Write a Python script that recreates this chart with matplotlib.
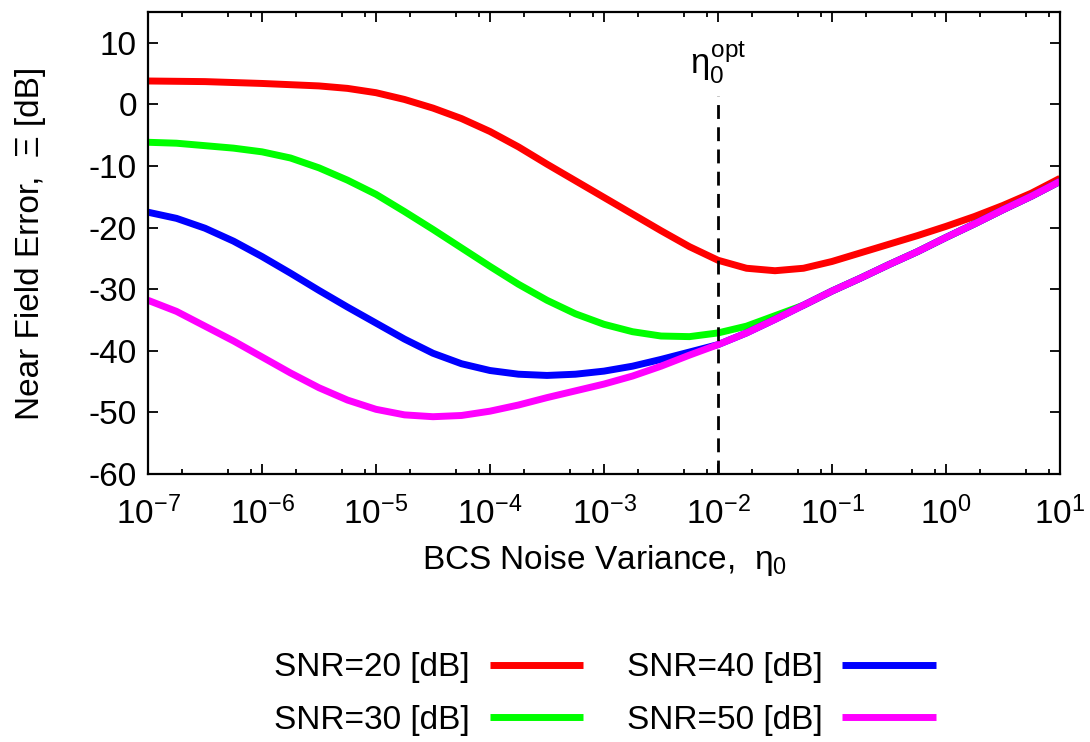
import numpy as np
import matplotlib
matplotlib.use("Agg")
import matplotlib.pyplot as plt
from matplotlib.ticker import LogLocator, FixedLocator, NullFormatter

plt.rcParams['font.family'] = ['Liberation Sans', 'DejaVu Sans']
plt.rcParams['mathtext.fontset'] = 'custom'
plt.rcParams['mathtext.rm'] = 'Liberation Sans'
plt.rcParams['mathtext.it'] = 'Liberation Sans'
plt.rcParams['axes.unicode_minus'] = False
plt.rcParams['font.size'] = 24

# noise variance, quarter-decade steps from 1e-7 to 1e1
exponents = [-7, -6.75, -6.5, -6.25, -6, -5.75, -5.5, -5.25, -5, -4.75, -4.5,
             -4.25, -4, -3.75, -3.5, -3.25, -3, -2.75, -2.5, -2.25, -2,
             -1.75, -1.5, -1.25, -1, -0.75, -0.5, -0.25, 0, 0.25, 0.5, 0.75, 1]
eta0 = [10.0 ** e for e in exponents]

snr20 = [3.8, 3.75, 3.7, 3.55, 3.4, 3.2, 3.0, 2.6, 1.9, 0.8, -0.6,
         -2.3, -4.4, -6.9, -9.7, -12.4, -15.1, -17.8, -20.5, -23.1, -25.3,
         -26.6, -27.0, -26.6, -25.5, -24.1, -22.7, -21.3, -19.8, -18.2, -16.4, -14.4, -12.0]
snr30 = [-6.15, -6.3, -6.7, -7.1, -7.7, -8.7, -10.3, -12.3, -14.6, -17.4, -20.3,
         -23.3, -26.3, -29.2, -31.8, -34.0, -35.7, -36.9, -37.6, -37.7, -37.1,
         -36.0, -34.3, -32.6, -30.3, -28.2, -26.0, -23.9, -21.6, -19.4, -17.1, -14.9, -12.5]
snr40 = [-17.5, -18.5, -20.1, -22.2, -24.7, -27.4, -30.2, -32.9, -35.5, -38.1, -40.4,
         -42.1, -43.2, -43.8, -44.0, -43.8, -43.3, -42.5, -41.4, -40.2, -39.0,
         -37.1, -34.9, -32.6, -30.3, -28.2, -26.0, -23.9, -21.6, -19.4, -17.1, -14.9, -12.5]
snr50 = [-31.8, -33.6, -36.0, -38.4, -41.0, -43.6, -46.0, -48.0, -49.5, -50.4, -50.7,
         -50.5, -49.8, -48.8, -47.6, -46.5, -45.4, -44.1, -42.5, -40.7, -39.0,
         -37.1, -34.9, -32.6, -30.3, -28.2, -26.0, -23.9, -21.6, -19.4, -17.1, -14.9, -12.5]

labels = ['SNR=20 [dB]', 'SNR=30 [dB]', 'SNR=40 [dB]', 'SNR=50 [dB]']
colors = ['#ff0000', '#00ff00', '#0000ff', '#ff00ff']
eta_opt = 1e-2

fig = plt.figure(figsize=(10.9, 7.42), dpi=100)
ax = fig.add_axes([148 / 1090, 1 - 474 / 742, 912 / 1090, 462 / 742])

lines = []
for y, c, lab in zip([snr20, snr30, snr40, snr50], colors, labels):
    ln, = ax.plot(eta0, y, color=c, lw=5.0, label=lab,
                  solid_capstyle='butt', solid_joinstyle='round')
    lines.append(ln)

ax.vlines(eta_opt, -60, 1.4, colors='black', linestyles=(0, (5, 3)), lw=2)
ax.text(eta_opt, 3.0, r'$\eta_0^{\mathrm{opt}}$', ha='center', va='bottom', fontsize=25)

ax.set_xscale('log')
ax.set_xlim(1e-7, 1e1)
ax.set_ylim(-60, 15)
ax.xaxis.set_major_locator(LogLocator(base=10, numticks=20))
ax.xaxis.set_minor_locator(LogLocator(base=10, subs=[2, 5, 8], numticks=20))
ax.xaxis.set_minor_formatter(NullFormatter())
ax.yaxis.set_major_locator(FixedLocator(np.arange(-60, 11, 10)))

ax.tick_params(which='both', direction='in', top=True, right=True, width=1.3)
ax.tick_params(which='major', length=7, labelsize=24)
ax.tick_params(axis='x', which='major', pad=16)
ax.tick_params(axis='y', which='major', pad=8)
ax.tick_params(which='minor', length=3.6)
for s in ax.spines.values():
    s.set_linewidth(1.6)

ax.set_xlabel(r'BCS Noise Variance,  $\eta_0$', fontsize=24, labelpad=9)
ax.set_ylabel('Near Field Error,  Ξ [dB]', fontsize=24, labelpad=31)

fig.legend(handles=lines, ncol=2, loc='center', bbox_to_anchor=(605 / 1090, 1 - 694 / 742),
           frameon=False, markerfirst=False, handlelength=2.8, columnspacing=1.3,
           labelspacing=0.64, handletextpad=0.6, fontsize=24)

fig.savefig('out.png', dpi=100)
